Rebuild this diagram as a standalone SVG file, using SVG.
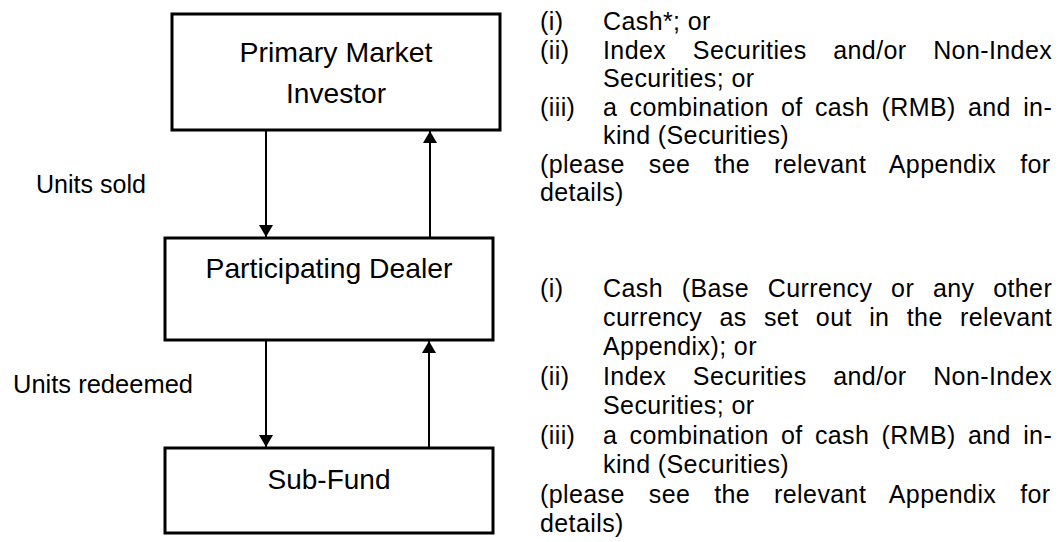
<svg xmlns="http://www.w3.org/2000/svg" width="1060" height="542" viewBox="0 0 1060 542">
<defs>
<style>
.box{fill:#fff;stroke:#000;stroke-width:3}
.lbl{font-family:"Liberation Sans",Arial,sans-serif;font-size:28px;fill:#000;text-anchor:middle}
.side{font-family:"Liberation Sans",Arial,sans-serif;font-size:25px;fill:#000}
.txt{font-family:"Liberation Sans",Arial,sans-serif;font-size:25px;fill:#000;letter-spacing:0.4px}
.conn line{stroke:#000;stroke-width:2}
</style>
<marker id="ah" viewBox="0 0 12 14" refX="12" refY="7" markerWidth="12" markerHeight="14" markerUnits="userSpaceOnUse" orient="auto">
<path d="M0,0 L12,7 L0,14 Z" fill="#000"/>
</marker>
</defs>
<rect width="1060" height="542" fill="#fff"/>
<g id="conn" class="conn">
<line x1="266" y1="131" x2="266" y2="237" marker-end="url(#ah)"/>
<line x1="430" y1="237" x2="430" y2="131" marker-end="url(#ah)"/>
<line x1="266" y1="341" x2="266" y2="447" marker-end="url(#ah)"/>
<line x1="429" y1="447" x2="429" y2="341" marker-end="url(#ah)"/>
</g>
<g id="primary">
<rect class="box" x="172" y="14" width="328" height="116"/>
<text class="lbl" x="336" y="62" textLength="193" lengthAdjust="spacingAndGlyphs">Primary Market</text>
<text class="lbl" x="336" y="103" textLength="100" lengthAdjust="spacingAndGlyphs">Investor</text>
</g>
<g id="dealer">
<rect class="box" x="165" y="238" width="328" height="102"/>
<text class="lbl" x="329" y="278" textLength="247" lengthAdjust="spacingAndGlyphs">Participating Dealer</text>
</g>
<g id="subfund">
<rect class="box" x="165" y="448" width="328" height="85"/>
<text class="lbl" x="329" y="489" textLength="123" lengthAdjust="spacingAndGlyphs">Sub-Fund</text>
</g>
<g id="labels">
<text class="side" x="36" y="193" textLength="110" lengthAdjust="spacingAndGlyphs">Units sold</text>
<text class="side" x="13" y="393" textLength="180" lengthAdjust="spacingAndGlyphs">Units redeemed</text>
</g>
<g id="notes-top" class="txt">
<text x="540" y="30">(i)</text><text x="603" y="30">Cash*; or</text>
<text x="540" y="59">(ii)</text><text x="603" y="59" word-spacing="19.3">Index Securities and/or Non-Index</text>
<text x="603" y="87">Securities; or</text>
<text x="540" y="116">(iii)</text><text x="603" y="116" word-spacing="4.9">a combination of cash (RMB) and in-</text>
<text x="603" y="144">kind (Securities)</text>
<text x="540" y="173" word-spacing="16.6">(please see the relevant Appendix for</text>
<text x="540" y="201">details)</text>
</g>
<g id="notes-bottom" class="txt">
<text x="540" y="297">(i)</text><text x="603" y="297" word-spacing="11.4">Cash (Base Currency or any other</text>
<text x="603" y="326" word-spacing="10">currency as set out in the relevant</text>
<text x="603" y="355">Appendix); or</text>
<text x="540" y="385">(ii)</text><text x="603" y="385" word-spacing="19.3">Index Securities and/or Non-Index</text>
<text x="603" y="414">Securities; or</text>
<text x="540" y="444">(iii)</text><text x="603" y="444" word-spacing="4.9">a combination of cash (RMB) and in-</text>
<text x="603" y="473">kind (Securities)</text>
<text x="540" y="503" word-spacing="16.6">(please see the relevant Appendix for</text>
<text x="540" y="532">details)</text>
</g>
</svg>
